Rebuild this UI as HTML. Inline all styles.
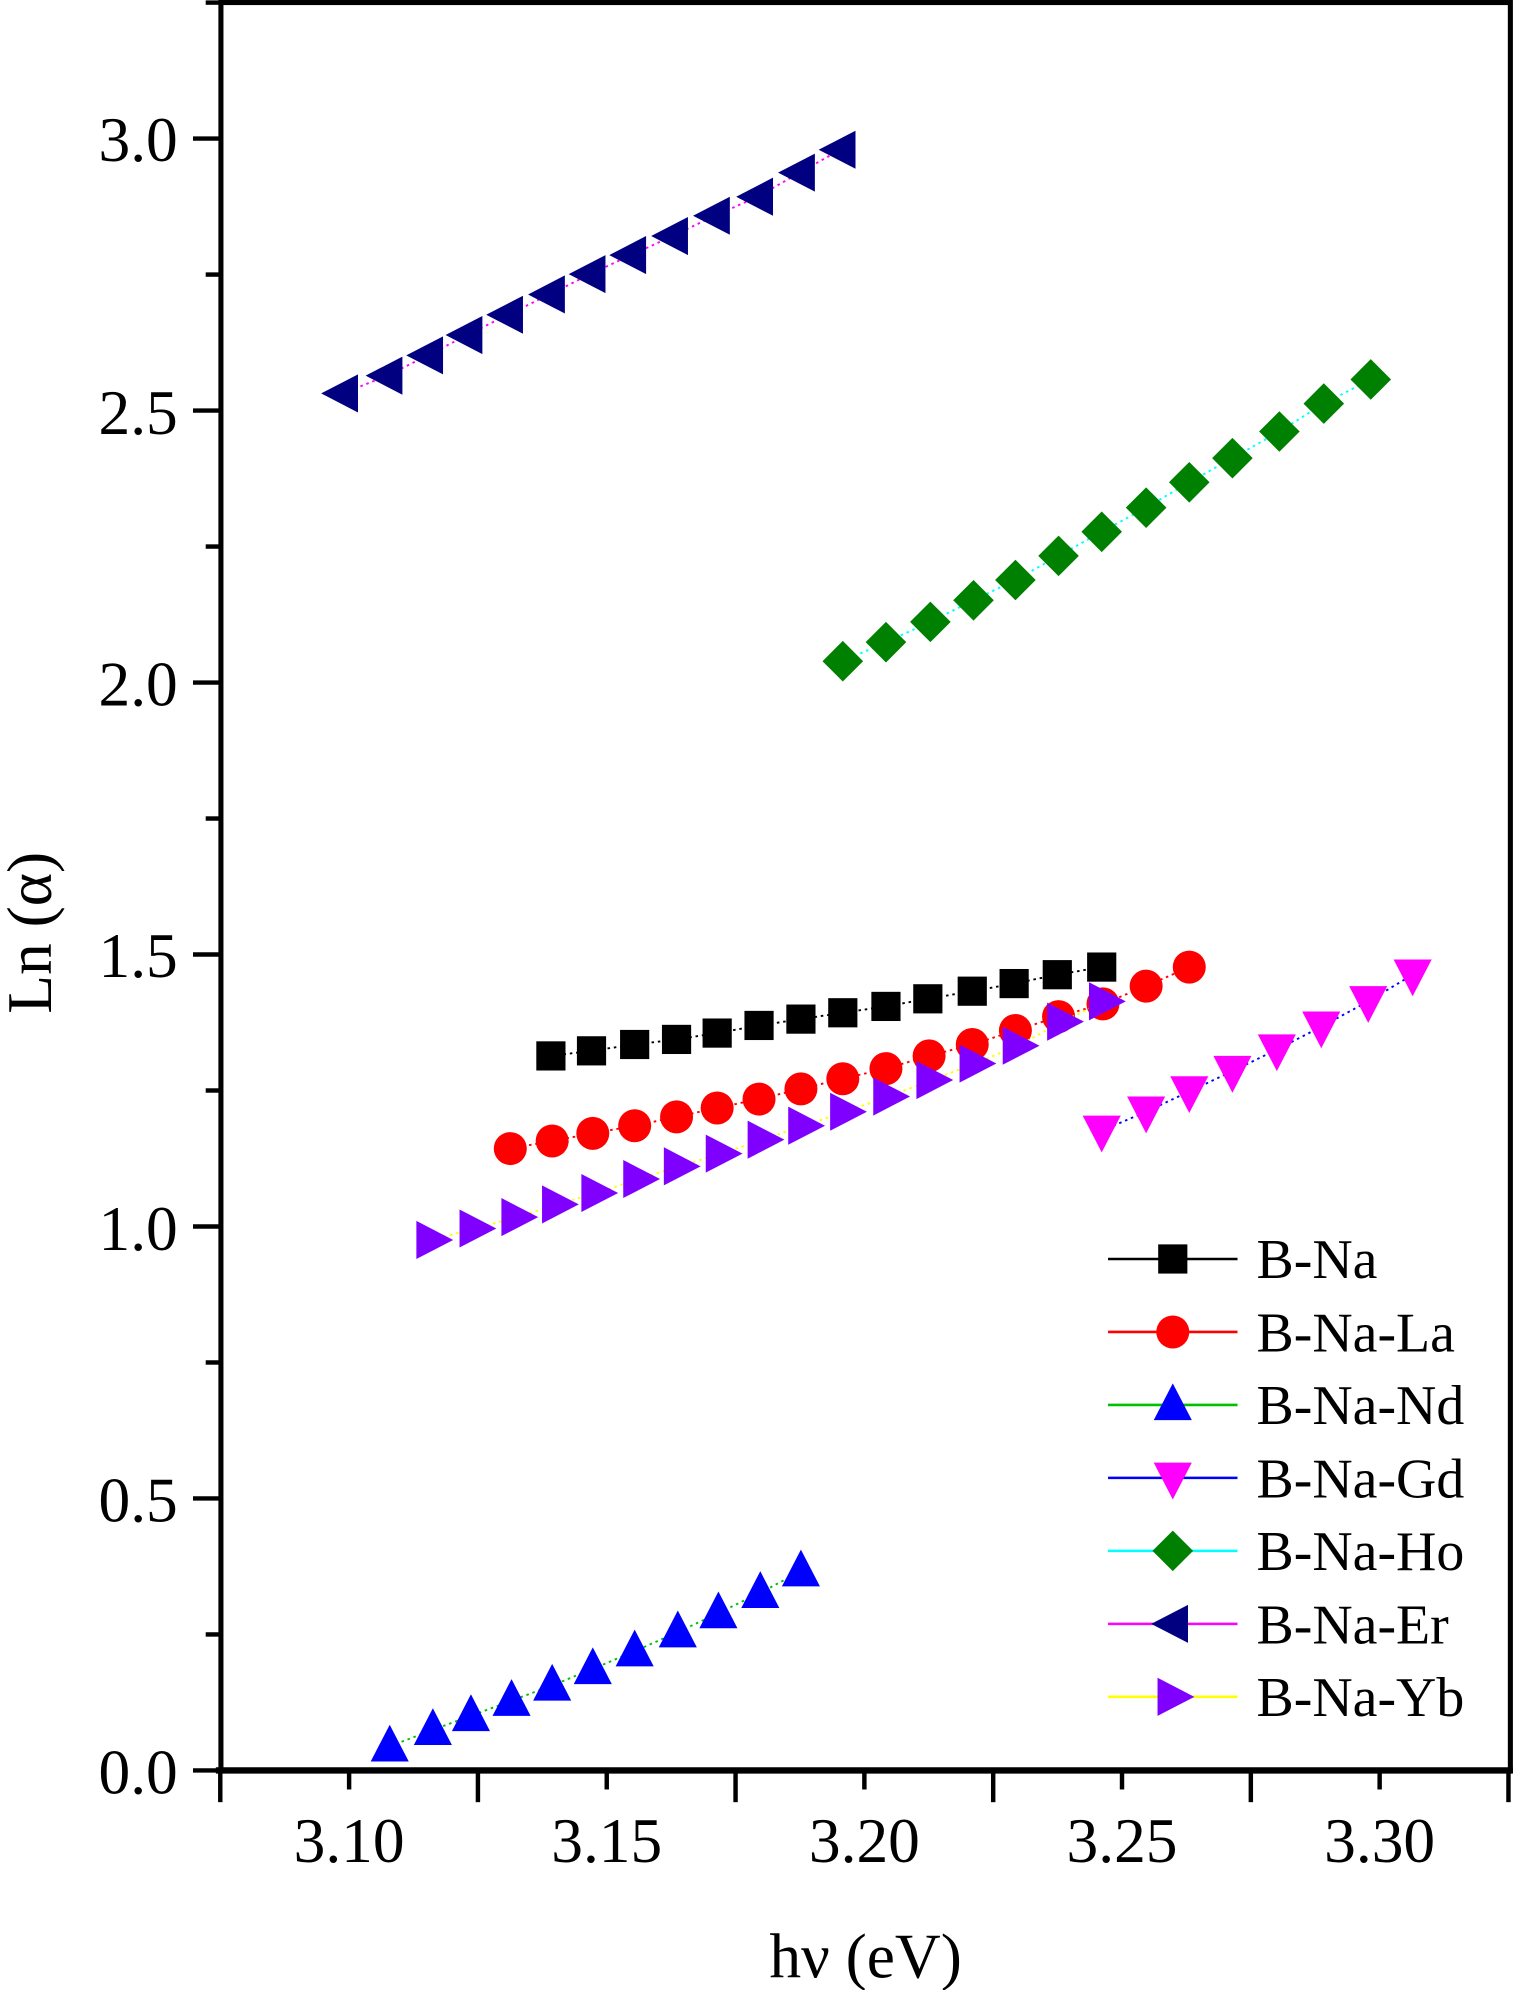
<!DOCTYPE html>
<html><head><meta charset="utf-8"><style>html,body{margin:0;padding:0;background:#fff}svg{display:block}</style></head>
<body>
<svg id="s" xmlns="http://www.w3.org/2000/svg" width="1513" height="1990" viewBox="0 0 1192 1568" font-family="'Liberation Serif',serif">
<rect width="1192" height="1568" fill="#fff"/>
<g id="ax" stroke="#000" fill="none"></g>
<g id="data"></g>
<g font-size="50" fill="#000">
<text x="140" y="1413" text-anchor="end">0.0</text>
<text x="140" y="1199" text-anchor="end">0.5</text>
<text x="140" y="985" text-anchor="end">1.0</text>
<text x="140" y="770" text-anchor="end">1.5</text>
<text x="140" y="556" text-anchor="end">2.0</text>
<text x="140" y="342" text-anchor="end">2.5</text>
<text x="140" y="127" text-anchor="end">3.0</text>
<text x="275" y="1467" text-anchor="middle">3.10</text>
<text x="478" y="1467" text-anchor="middle">3.15</text>
<text x="681" y="1467" text-anchor="middle">3.20</text>
<text x="884" y="1467" text-anchor="middle">3.25</text>
<text x="1087" y="1467" text-anchor="middle">3.30</text>
<text x="682" y="1558" text-anchor="middle">hν (eV)</text>
<text transform="translate(40,735) rotate(-90)" text-anchor="middle">Ln (α)</text>
</g>
<g id="leg"></g>
<g font-size="44" fill="#000">
<text x="990" y="1007">B-Na</text>
<text x="990" y="1065">B-Na-La</text>
<text x="990" y="1122">B-Na-Nd</text>
<text x="990" y="1180">B-Na-Gd</text>
<text x="990" y="1237">B-Na-Ho</text>
<text x="990" y="1295">B-Na-Er</text>
<text x="990" y="1352">B-Na-Yb</text>
</g>
</svg>
<script>
var NS="http://www.w3.org/2000/svg";
function el(p,t,a){var e=document.createElementNS(NS,t);for(var k in a)e.setAttribute(k,a[k]);p.appendChild(e);return e;}
var ax=document.getElementById('ax');
el(ax,'rect',{x:174,y:2,width:1016,height:1393,'stroke-width':4});
el(ax,'line',{x1:170,y1:1395,x2:1192,y2:1395,'stroke-width':5});
for(var i=0;i<=13;i++){var y=1395-i*0.25*428.6;if(y<2)break;el(ax,'line',{x1:i%2?162:152,y1:y,x2:174,y2:y,'stroke-width':3.5});}
for(var i=0;i<=10;i++){var x=173.5+i*0.025*4060;el(ax,'line',{x1:x,y1:1395,x2:x,y2:i%2?1410:1420,'stroke-width':3.5});}
var S=[
{c:'#000080',l:'#ff00ff',m:'L',p:[[270,310],[305,296],[337,280],[368,264],[400,248],[433,232],[465,216],[497,201],[530,186],[563,170],[597,155],[630,136],[662,118]]},
{c:'#008000',l:'#00ffff',m:'D',p:[[664,521],[698,506],[733,490],[767,473],[800,457],[834,438],[868,419],[903,400],[937,380],[971,361],[1008,340],[1043,318],[1080,299]]},
{c:'#000',l:'#000',m:'S',p:[[434,832],[466,828],[500,823],[533,819],[565,814],[598,808],[631,803],[664,798],[698,793],[731,787],[766,781],[799,775],[833,768],[868,762]]},
{c:'#ff0000',l:'#ff0000',m:'C',p:[[402,905],[435,899],[467,893],[500,887],[533,880],[565,873],[598,866],[631,858],[664,850],[698,842],[732,832],[766,823],[800,812],[834,801],[869,791],[903,777],[937,762]]},
{c:'#8000ff',l:'#ffff00',m:'R',p:[[340,977],[374,968],[407,959],[439,949],[470,940],[503,929],[535,919],[568,909],[601,898],[633,887],[666,876],[700,864],[734,851],[768,838],[802,824],[837,805],[870,789]]},
{c:'#ff00ff',l:'#0000ff',m:'V',p:[[868,891],[903,876],[937,860],[971,844],[1006,827],[1041,809],[1078,789],[1113,768]]},
{c:'#0000ff',l:'#00c000',m:'U',p:[[307,1376],[341,1363],[371,1352],[403,1340],[435,1328],[467,1315],[500,1301],[534,1286],[566,1271],[599,1255],[631,1238]]}
];
function mk(g,m,x,y,c){
 if(m=='S')el(g,'rect',{x:x-11.5,y:y-11.5,width:23,height:23,fill:c});
 else if(m=='C')el(g,'circle',{cx:x,cy:y,r:13,fill:c});
 else if(m=='D')el(g,'polygon',{points:[x,y-16,x+16,y,x,y+16,x-16,y].join(' '),fill:c});
 else if(m=='U')el(g,'polygon',{points:[x,y-17,x+15,y+12,x-15,y+12].join(' '),fill:c});
 else if(m=='V')el(g,'polygon',{points:[x,y+17,x+15,y-12,x-15,y-12].join(' '),fill:c});
 else if(m=='L')el(g,'polygon',{points:[x-17,y,x+12,y-15,x+12,y+15].join(' '),fill:c});
 else if(m=='R')el(g,'polygon',{points:[x+17,y,x-12,y-15,x-12,y+15].join(' '),fill:c});
}
var d=document.getElementById('data');
S.forEach(function(s){
 el(d,'polyline',{points:s.p.map(function(q){return q.join(',')}).join(' '),fill:'none',stroke:s.l,'stroke-width':1.5,'stroke-dasharray':'2,3'});
 s.p.forEach(function(q){mk(d,s.m,q[0],q[1],s.c);});
});
var L=[['#000','#000','S'],['#ff0000','#ff0000','C'],['#0000ff','#00c000','U'],['#ff00ff','#0000ff','V'],['#008000','#00ffff','D'],['#000080','#ff00ff','L'],['#8000ff','#ffff00','R']];
var lg=document.getElementById('leg');
L.forEach(function(e,i){var y=992+i*57.5;
 el(lg,'line',{x1:873,y1:y,x2:975,y2:y,stroke:e[1],'stroke-width':2});
 mk(lg,e[2],924,y,e[0]);
});
</script>
</body></html>
